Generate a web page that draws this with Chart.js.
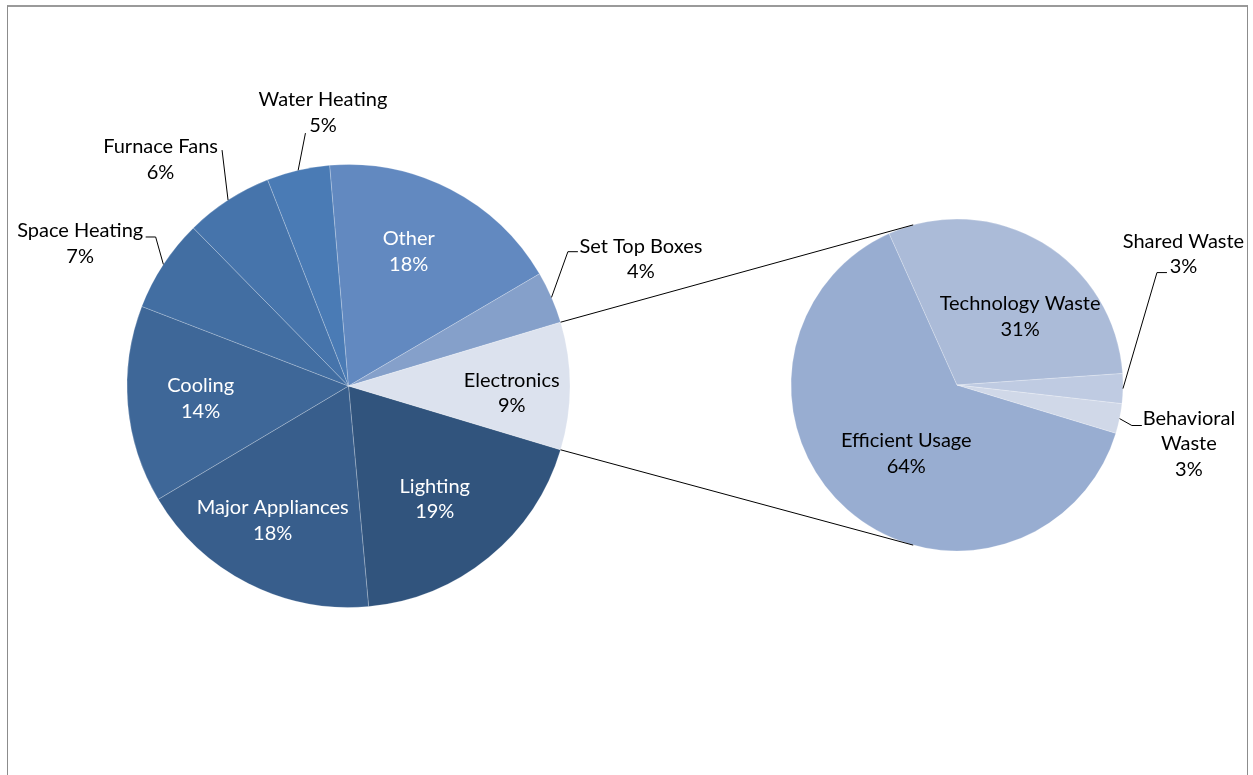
<!DOCTYPE html>
<html><head><meta charset="utf-8">
<script src="https://cdn.jsdelivr.net/npm/chart.js@4/dist/chart.umd.min.js"></script>
<style>
html,body{margin:0;padding:0;background:#fff;width:1253px;height:775px;overflow:hidden}
#frame{position:absolute;left:7px;top:5px;width:1241px;height:820px;border-top:2px solid #9a9a9a;border-left:1px solid #8c8c8c;border-right:1px solid #8c8c8c;box-sizing:border-box}
canvas{position:absolute;left:0;top:0}
</style></head><body>
<div id="frame"></div>
<canvas id="c1" width="1253" height="775"></canvas>
<canvas id="c2" width="1253" height="775"></canvas>
<script>
const FONT = '"Lato", "Liberation Sans", sans-serif';

// ---- data ----
const mainCategories = ['Lighting','Major Appliances','Cooling','Space Heating','Furnace Fans','Water Heating','Other','Set Top Boxes','Electronics'];
const mainValues = [18.9, 17.9, 14.4, 6.8, 6.4, 4.6, 17.9, 3.8, 9.3];
const subCategories = ['Efficient Usage','Technology Waste','Shared Waste','Behavioral Waste'];
const subValues = [63.6, 30.6, 2.9, 2.9];
const splitCategory = 'Electronics';

// ---- styles ----
const mainColors = ['#31547D','#385E8C','#3E6798','#426EA2','#4674AB','#4A7BB5','#6289C0','#85A0CA','#DCE2EE'];
const subColors = ['#98ADD1','#ABBBD8','#BFCBE2','#D0D8E8'];

// label layout: f = fraction of radius along mid angle, dx/dy nudge, leader points relative to label centre
const mainLabelLayout = [
  {f:0.67, dx:-7.6, dy:-1.8, color:'#fff'},
  {f:0.67, dx:-8.4, dy:2.5, color:'#fff'},
  {f:0.67, dx:0, dy:0, color:'#fff'},
  {f:1, dx:-83.2, dy:-20.9, leader:[[75.5,-6.5],[65.5,-6.5]]},
  {f:1, dx:-67.5, dy:-40.5, leader:[[61.5,-9.5]]},
  {f:1, dx:24.8, dy:-57.7, leader:[[-17.5,20.5]]},
  {f:0.67, dx:-8, dy:-2.4, color:'#fff'},
  {f:1, dx:89.4, dy:-38.2, leader:[[-73,-7.5],[-63,-7.5]]},
  {f:0.67, dx:14.8, dy:7}
];
const subLabelLayout = [
  {f:0.67, dx:22.8, dy:-15.1},
  {f:0.67, dx:5.9, dy:27.1},
  {f:1, dx:60.5, dy:-134.5, leader:[[-26.5,18.5],[-16.5,18.5]]},
  {f:1, dx:69.3, dy:25.4, leader:[[-57,-18.5],[-47,-18.5]], lines:['Behavioral','Waste']}
];

function drawLabels(chart, layout, cats, vals) {
  const ctx = chart.ctx;
  const arcs = chart.getDatasetMeta(0).data;
  const total = vals.reduce((a,b)=>a+b,0);
  ctx.save();
  ctx.font = '20px ' + FONT;
  ctx.textAlign = 'center';
  ctx.textBaseline = 'middle';
  ctx.strokeStyle = '#000';
  ctx.lineWidth = 1;
  arcs.forEach((arc, i) => {
    const p = arc.getProps(['x','y','startAngle','endAngle','outerRadius'], true);
    const mid = (p.startAngle + p.endAngle) / 2;
    const L = layout[i];
    const ex = p.x + Math.cos(mid) * p.outerRadius * L.f;
    const ey = p.y + Math.sin(mid) * p.outerRadius * L.f;
    const lx = ex + L.dx, ly = ey + L.dy;
    if (L.leader) {
      ctx.beginPath();
      ctx.moveTo(p.x + Math.cos(mid) * p.outerRadius, p.y + Math.sin(mid) * p.outerRadius);
      L.leader.forEach(pt => ctx.lineTo(lx + pt[0], ly + pt[1]));
      ctx.stroke();
    }
    const lines = (L.lines || [cats[i]]).concat([Math.round(vals[i] / total * 100) + '%']);
    const lh = 25.5;
    ctx.fillStyle = L.color || '#000';
    lines.forEach((t, k) => ctx.fillText(t, lx, ly + (k - (lines.length - 1) / 2) * lh));
  });
  ctx.restore();
}

const mainTotal = mainValues.reduce((a,b)=>a+b,0);
const splitIdx = mainCategories.indexOf(splitCategory);
const mainRotation = 90 + (mainValues[splitIdx] / mainTotal * 360) / 2;

const chart1 = new Chart(document.getElementById('c1'), {
  type: 'pie',
  data: { labels: mainCategories, datasets: [{ data: mainValues, backgroundColor: mainColors,
    borderColor: 'rgba(255,255,255,0.22)', borderWidth: 1 }] },
  options: {
    responsive: false, animation: false, rotation: mainRotation, radius: 221.5,
    layout: { padding: { left: 127, right: 683, top: 164.5, bottom: 167.5 } },
    plugins: { legend: { display: false }, tooltip: { enabled: false } }
  },
  plugins: [{ id: 'lbl1', afterDatasetsDraw(c) { drawLabels(c, mainLabelLayout, mainCategories, mainValues); } }]
});

const chart2 = new Chart(document.getElementById('c2'), {
  type: 'pie',
  data: { labels: subCategories, datasets: [{ data: subValues, backgroundColor: subColors,
    borderColor: 'rgba(255,255,255,0.22)', borderWidth: 1 }] },
  options: {
    responsive: false, animation: false, rotation: 106.9, radius: 166,
    layout: { padding: { left: 791, right: 130, top: 219, bottom: 224 } },
    plugins: { legend: { display: false }, tooltip: { enabled: false } }
  },
  plugins: [{ id: 'lbl2', afterDatasetsDraw(c) {
    drawLabels(c, subLabelLayout, subCategories, subValues);
    // connector lines from the split slice to the secondary pie
    const a = chart1.getDatasetMeta(0).data[splitIdx].getProps(['x','y','startAngle','endAngle','outerRadius'], true);
    const b = c.getDatasetMeta(0).data[0].getProps(['x','y','outerRadius'], true);
    const ang = 105.3 * Math.PI / 180;
    const ctx = c.ctx;
    ctx.save();
    ctx.strokeStyle = '#000'; ctx.lineWidth = 1;
    ctx.beginPath();
    ctx.moveTo(a.x + Math.cos(a.startAngle) * a.outerRadius, a.y + Math.sin(a.startAngle) * a.outerRadius);
    ctx.lineTo(b.x + Math.cos(-ang) * b.outerRadius, b.y + Math.sin(-ang) * b.outerRadius);
    ctx.moveTo(a.x + Math.cos(a.endAngle) * a.outerRadius, a.y + Math.sin(a.endAngle) * a.outerRadius);
    ctx.lineTo(b.x + Math.cos(ang) * b.outerRadius, b.y + Math.sin(ang) * b.outerRadius);
    ctx.stroke();
    ctx.restore();
  } }]
});
</script>
</body></html>
